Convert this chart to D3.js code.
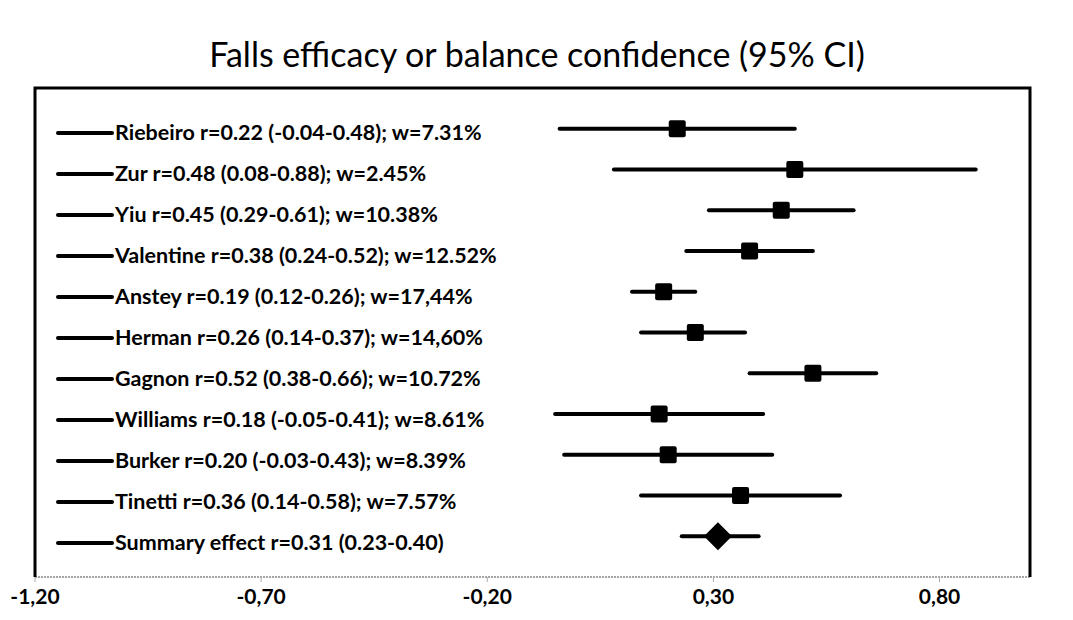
<!DOCTYPE html>
<html>
<head>
<meta charset="utf-8">
<script src="https://cdn.jsdelivr.net/npm/d3@7"></script>
<style>
  body { margin: 0; background: #fff; }
  svg { display: block; }
  text { font-family: Lato, "Open Sans", sans-serif; fill: #000; }
</style>
</head>
<body>
<div id="chart"></div>
<script>
// Forest plot: falls efficacy / balance confidence

var width = 1073;
var height = 620;

// data
var studies = ["Riebeiro", "Zur", "Yiu", "Valentine", "Anstey", "Herman", "Gagnon", "Williams", "Burker", "Tinetti", "Summary effect"];
var effect = [0.22, 0.48, 0.45, 0.38, 0.19, 0.26, 0.52, 0.18, 0.20, 0.36, 0.31];
var lower  = [-0.04, 0.08, 0.29, 0.24, 0.12, 0.14, 0.38, -0.05, -0.03, 0.14, 0.23];
var upper  = [0.48, 0.88, 0.61, 0.52, 0.26, 0.37, 0.66, 0.41, 0.43, 0.58, 0.40];
var weights = ["7.31%", "2.45%", "10.38%", "12.52%", "17,44%", "14,60%", "10.72%", "8.61%", "8.39%", "7.57%", null];
var ticks = [-1.2, -0.7, -0.2, 0.3, 0.8];

// plot box (don't call it "top", that's window.top)
var boxLeft = 35, boxRight = 1030, boxTop = 88, boxBottom = 577;

var svg = d3.select("#chart")
            .append("svg")
            .attr("width", width)
            .attr("height", height);

var x = d3.scaleLinear()
          .domain([-1.2, 1.0])
          .range([boxLeft, boxRight]);

// rows sit at 1..11 on a 0..12 scale, top to bottom
var y = d3.scaleLinear()
          .domain([0, 12])
          .range([boxTop, boxBottom]);

function fmt(v) { return v.toFixed(2); }

var rows = studies.map(function(s, i) {
    var label = s + " r=" + fmt(effect[i]) + " (" + fmt(lower[i]) + "-" + fmt(upper[i]) + ")";
    if (weights[i] != null) label += "; w=" + weights[i];
    return { name: s, r: effect[i], lo: lower[i], hi: upper[i], label: label, idx: i, summary: weights[i] == null };
});

// title
svg.append("text")
   .attr("x", 537)
   .attr("y", 67)
   .attr("text-anchor", "middle")
   .style("font-size", "34px")
   .text("Falls efficacy or balance confidence (95% CI)");

// axis line (dotted grey) + ticks
svg.append("line")
   .attr("x1", boxLeft).attr("x2", boxRight)
   .attr("y1", boxBottom).attr("y2", boxBottom)
   .attr("stroke", "#888")
   .attr("stroke-width", 1.5)
   .attr("stroke-dasharray", "2,1");

svg.append("g")
   .selectAll("line")
   .data(ticks)
   .enter()
   .append("line")
   .attr("x1", function(d) { return x(d); })
   .attr("x2", function(d) { return x(d); })
   .attr("y1", boxBottom)
   .attr("y2", boxBottom + 5)
   .attr("stroke", "#aaa")
   .attr("stroke-width", 1);

svg.append("g")
   .selectAll("text")
   .data(ticks)
   .enter()
   .append("text")
   .attr("x", function(d) { return x(d); })
   .attr("y", 604)
   .attr("text-anchor", "middle")
   .style("font-size", "21px")
   .style("font-weight", "bold")
   .text(function(d) { return d3.format(".2f")(d).replace(".", ",").replace("−", "-"); });

// box borders: top, left, right
svg.append("path")
   .attr("d", "M" + boxLeft + "," + boxBottom + "V" + boxTop + "H" + boxRight + "V" + boxBottom)
   .attr("fill", "none")
   .attr("stroke", "#000")
   .attr("stroke-width", 3);

// CI lines
svg.append("g")
   .selectAll("line")
   .data(rows)
   .enter()
   .append("line")
   .attr("x1", function(d) { return x(d.lo); })
   .attr("x2", function(d) { return x(d.hi); })
   .attr("y1", function(d) { return y(d.idx + 1); })
   .attr("y2", function(d) { return y(d.idx + 1); })
   .attr("stroke", "#000")
   .attr("stroke-width", 4)
   .attr("stroke-linecap", "round");

// square markers
var ms = 17;
svg.append("g")
   .selectAll("rect")
   .data(rows.filter(function(d) { return !d.summary; }))
   .enter()
   .append("rect")
   .attr("x", function(d) { return x(d.r) - ms / 2; })
   .attr("y", function(d) { return y(d.idx + 1) - ms / 2; })
   .attr("width", ms)
   .attr("height", ms)
   .attr("rx", 2)
   .attr("fill", "#000");

// summary diamond
svg.append("g")
   .selectAll("path")
   .data(rows.filter(function(d) { return d.summary; }))
   .enter()
   .append("path")
   .attr("d", function(d) {
       var cx = x(d.r), cy = y(d.idx + 1);
       return "M" + (cx - 14) + "," + cy + "L" + cx + "," + (cy - 14) + "L" + (cx + 14) + "," + cy + "L" + cx + "," + (cy + 14) + "Z";
   })
   .attr("fill", "#000");

// legend
var legend = svg.append("g")
   .selectAll("g")
   .data(rows)
   .enter()
   .append("g")
   .attr("transform", function(d, i) { return "translate(0," + (133 + i * 41) + ")"; });

legend.append("line")
   .attr("x1", 58).attr("x2", 112)
   .attr("y1", 0).attr("y2", 0)
   .attr("stroke", "#000")
   .attr("stroke-width", 4)
   .attr("stroke-linecap", "round");

legend.append("text")
   .attr("x", 115)
   .attr("y", 7)
   .style("font-size", "21.5px")
   .style("font-weight", "bold")
   .text(function(d) { return d.label; });
</script>
</body>
</html>
